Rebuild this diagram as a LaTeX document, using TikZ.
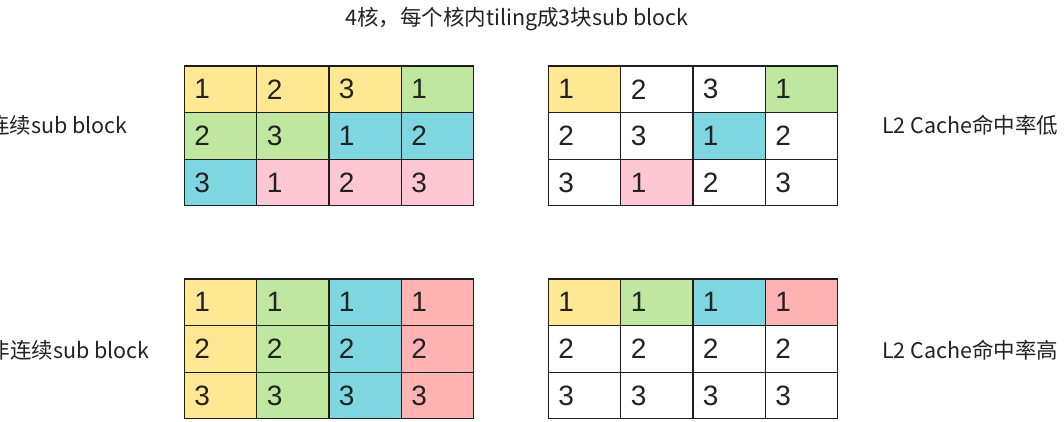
\documentclass[tikz,border=0pt]{standalone}
\usepackage{fontspec}
\setmainfont{Noto Sans CJK SC}
\newfontfamily\digitfont{Liberation Sans}
\usepackage{xcolor}
\definecolor{tlyellow}{HTML}{FFE793}
\definecolor{tlgreen}{HTML}{C0E7A0}
\definecolor{tlcyan}{HTML}{7ED7E0}
\definecolor{tlpink}{HTML}{FFC6D3}
\definecolor{tlred}{HTML}{FFB3B3}
\definecolor{tlline}{HTML}{1E1E1E}
\definecolor{tltext}{HTML}{222222}
\usepackage{tikz}
\usetikzlibrary{positioning}

\tikzset{
  cell/.style={draw=tlline, line width=1.1pt, fill=white, minimum height=46.6pt,
    text width=52.25pt, inner xsep=10pt, inner ysep=0pt, align=left,
    font=\digitfont\fontsize{28}{28}\selectfont, text=tltext},
  caption/.style={font=\fontsize{21.5}{24}\selectfont, text=tltext, inner sep=0pt}
}

\begin{document}
\begin{tikzpicture}[x=1pt, y=-1pt]
\useasboundingbox (0,0) rectangle (1064,422);

\node[caption] (title) at (517,19) {4核，每个核内tiling成3块sub block};

% === Top-left grid: contiguous ===
\node[cell, fill=tlyellow] (tl11) at (220.6,89.3) {1};
\node[cell, fill=tlyellow] (tl12) at (292.9,89.3) {2};
\node[cell, fill=tlyellow] (tl13) at (365.1,89.3) {3};
\node[cell, fill=tlgreen]  (tl14) at (437.4,89.3) {1};
\node[cell, fill=tlgreen]  (tl21) at (220.6,136) {2};
\node[cell, fill=tlgreen]  (tl22) at (292.9,136) {3};
\node[cell, fill=tlcyan]   (tl23) at (365.1,136) {1};
\node[cell, fill=tlcyan]   (tl24) at (437.4,136) {2};
\node[cell, fill=tlcyan]   (tl31) at (220.6,182.6) {3};
\node[cell, fill=tlpink]   (tl32) at (292.9,182.6) {1};
\node[cell, fill=tlpink]   (tl33) at (365.1,182.6) {2};
\node[cell, fill=tlpink]   (tl34) at (437.4,182.6) {3};

% === Top-right grid ===
\node[cell, fill=tlyellow] (tr11) at (584.6,89.3) {1};
\node[cell]                (tr12) at (656.9,89.3) {2};
\node[cell]                (tr13) at (729.1,89.3) {3};
\node[cell, fill=tlgreen]  (tr14) at (801.4,89.3) {1};
\node[cell]                (tr21) at (584.6,136) {2};
\node[cell]                (tr22) at (656.9,136) {3};
\node[cell, fill=tlcyan]   (tr23) at (729.1,136) {1};
\node[cell]                (tr24) at (801.4,136) {2};
\node[cell]                (tr31) at (584.6,182.6) {3};
\node[cell, fill=tlpink]   (tr32) at (656.9,182.6) {1};
\node[cell]                (tr33) at (729.1,182.6) {2};
\node[cell]                (tr34) at (801.4,182.6) {3};

% === Bottom-left grid: strided ===
\node[cell, fill=tlyellow] (bl11) at (220.6,302.3) {1};
\node[cell, fill=tlgreen]  (bl12) at (292.9,302.3) {1};
\node[cell, fill=tlcyan]   (bl13) at (365.1,302.3) {1};
\node[cell, fill=tlred]    (bl14) at (437.4,302.3) {1};
\node[cell, fill=tlyellow] (bl21) at (220.6,349) {2};
\node[cell, fill=tlgreen]  (bl22) at (292.9,349) {2};
\node[cell, fill=tlcyan]   (bl23) at (365.1,349) {2};
\node[cell, fill=tlred]    (bl24) at (437.4,349) {2};
\node[cell, fill=tlyellow] (bl31) at (220.6,395.6) {3};
\node[cell, fill=tlgreen]  (bl32) at (292.9,395.6) {3};
\node[cell, fill=tlcyan]   (bl33) at (365.1,395.6) {3};
\node[cell, fill=tlred]    (bl34) at (437.4,395.6) {3};

% === Bottom-right grid ===
\node[cell, fill=tlyellow] (br11) at (584.6,302.3) {1};
\node[cell, fill=tlgreen]  (br12) at (656.9,302.3) {1};
\node[cell, fill=tlcyan]   (br13) at (729.1,302.3) {1};
\node[cell, fill=tlred]    (br14) at (801.4,302.3) {1};
\node[cell]                (br21) at (584.6,349) {2};
\node[cell]                (br22) at (656.9,349) {2};
\node[cell]                (br23) at (729.1,349) {2};
\node[cell]                (br24) at (801.4,349) {2};
\node[cell]                (br31) at (584.6,395.6) {3};
\node[cell]                (br32) at (656.9,395.6) {3};
\node[cell]                (br33) at (729.1,395.6) {3};
\node[cell]                (br34) at (801.4,395.6) {3};

% === Side labels ===
\node[caption, anchor=east] (contig) at (128,125) {连续sub block};
\node[caption, anchor=east] (strided) at (150,350) {非连续sub block};
\node[caption, anchor=west] (lowhit) at (882,125) {L2 Cache命中率低};
\node[caption, anchor=west] (highhit) at (882,350) {L2 Cache命中率高};

\end{tikzpicture}
\end{document}
